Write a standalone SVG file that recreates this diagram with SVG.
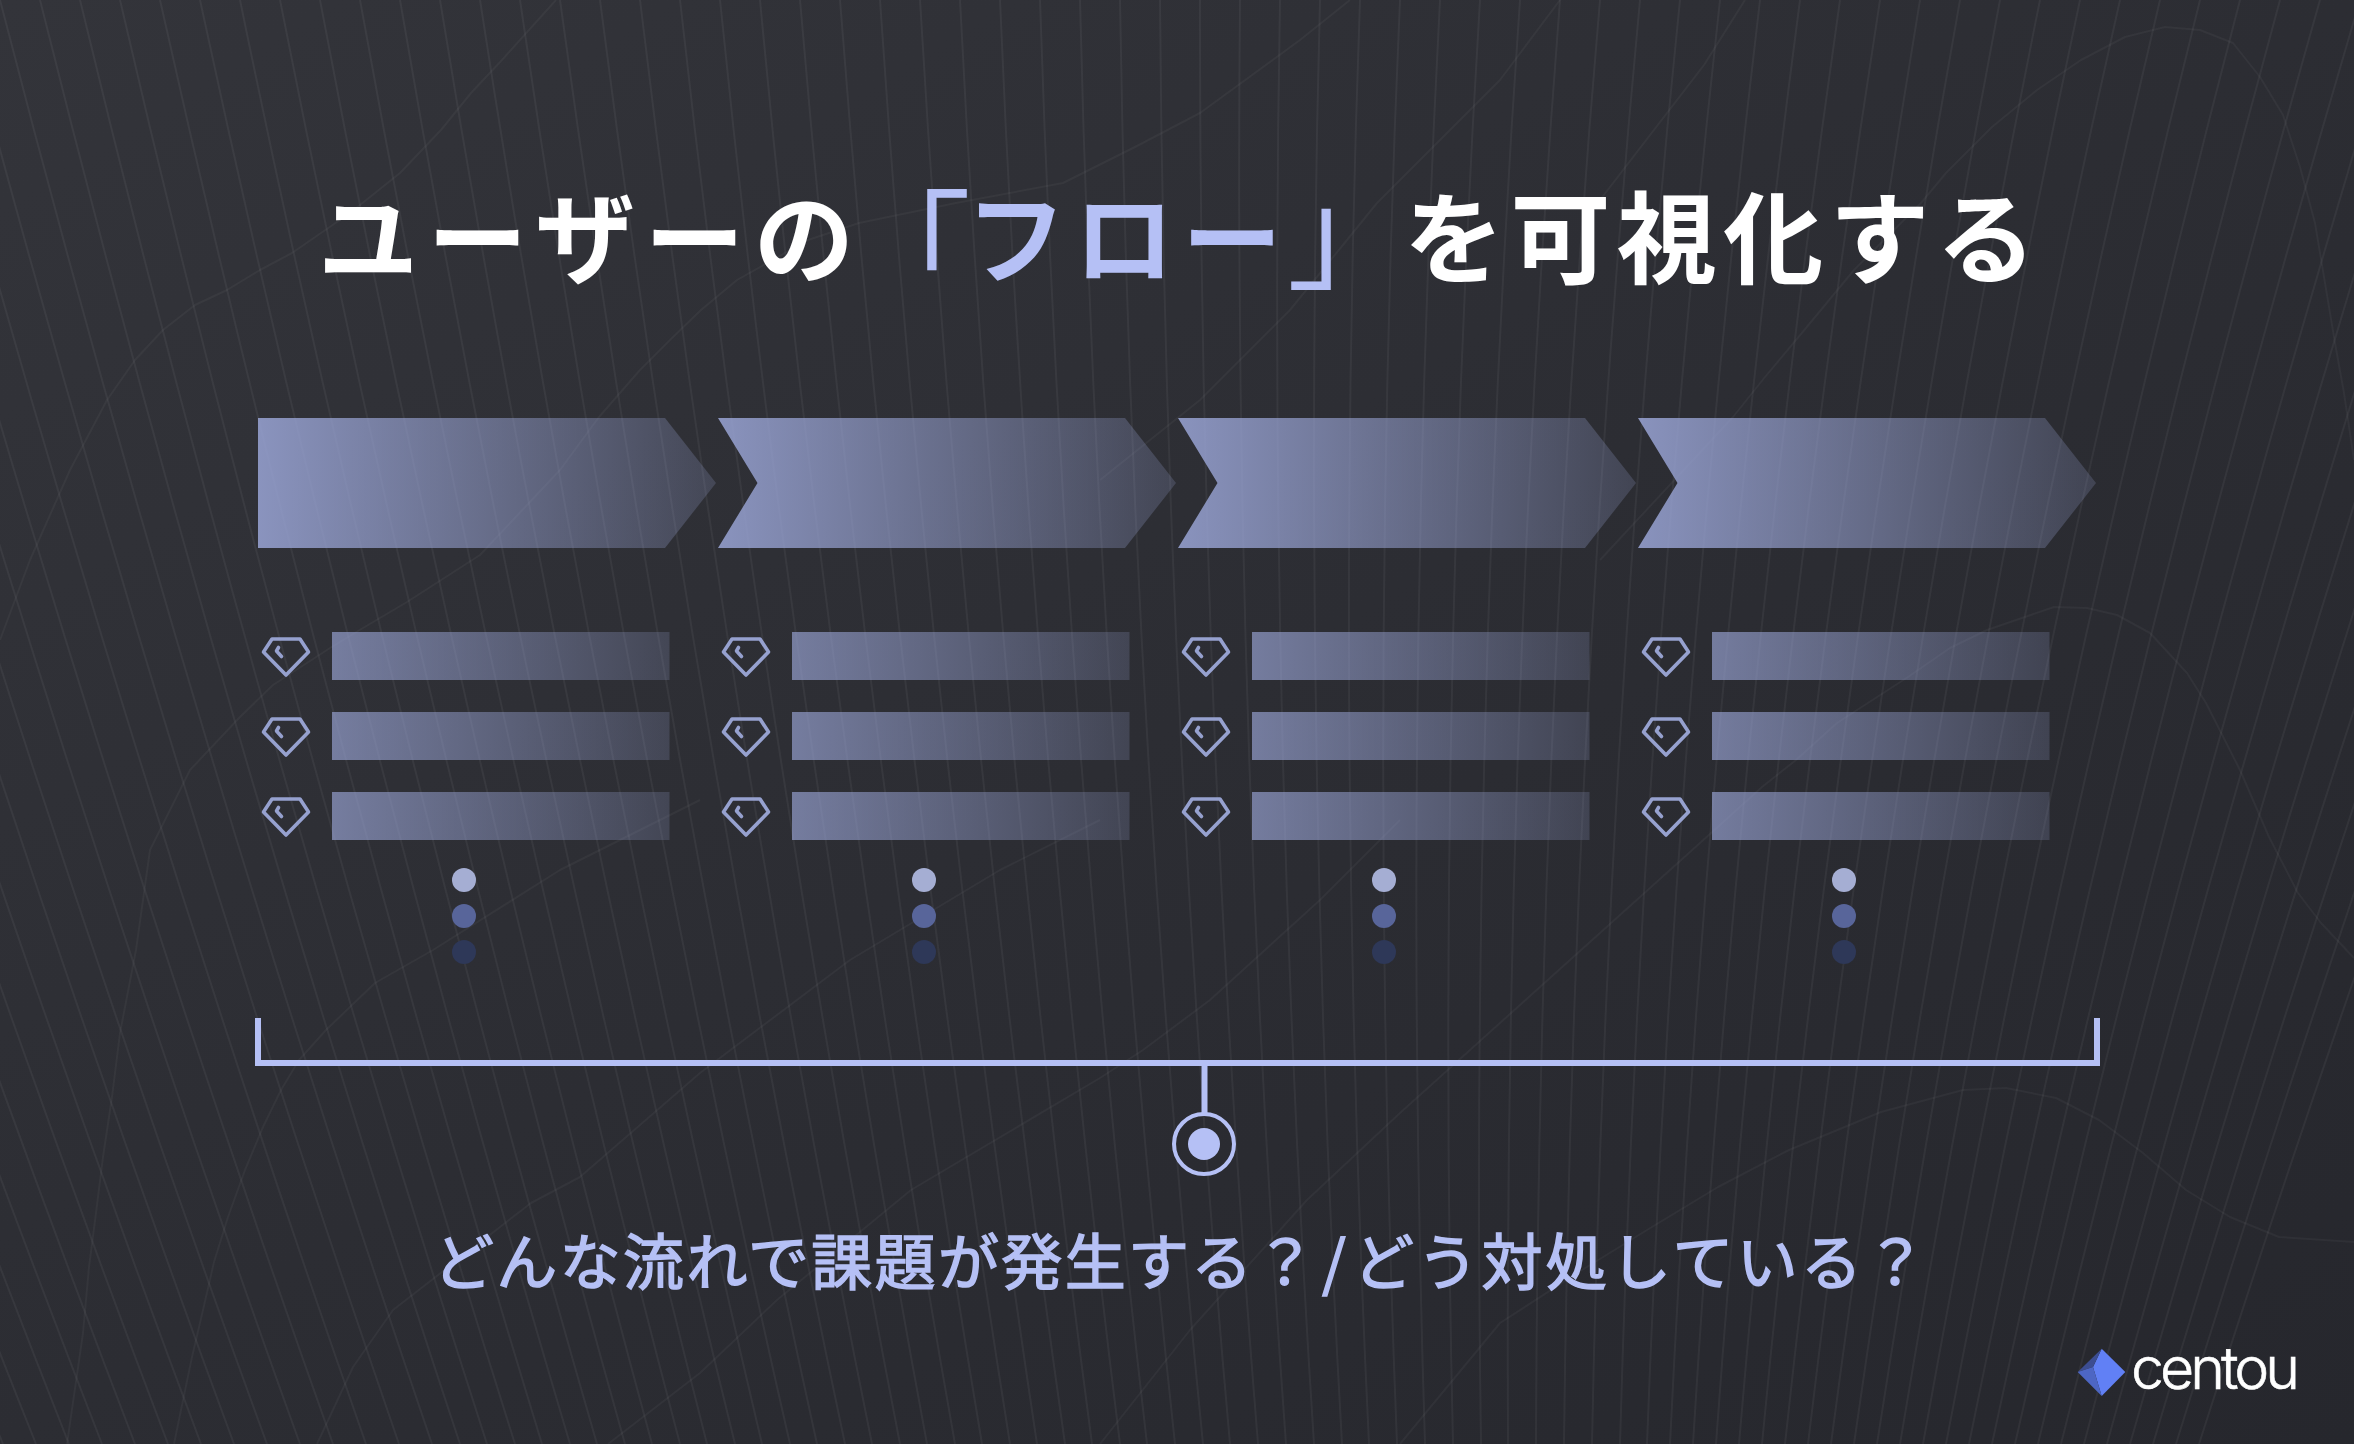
<svg xmlns="http://www.w3.org/2000/svg" width="2354" height="1444" viewBox="0 0 2354 1444">
<style>
.bgline{fill:none;stroke:#fff;stroke-opacity:.05;stroke-width:2}
.wave{fill:none;stroke:#fff;stroke-opacity:.04;stroke-width:2;stroke-linejoin:round}
.chev{fill:url(#gc)}
.bar{fill:url(#gb)}
.gem{fill:none;stroke:#96a1cf;stroke-width:3.6;stroke-linejoin:round;stroke-linecap:round}
.title{font-family:"Noto Sans CJK JP","Noto Sans",sans-serif;font-weight:700;font-size:100px;fill:#fff}
.sub{font-family:"Noto Sans CJK JP","Noto Sans",sans-serif;font-weight:400;font-size:61px;fill:#b5c0f5;stroke:#b5c0f5;stroke-width:1.500}
.accent{fill:#b5c0f5}
.brk{fill:#b5c0f5;font-weight:400;font-size:125px}
.d1{fill:#a5aed3}.d2{fill:#58659a}.d3{fill:#2e3858}
.conn{fill:none;stroke:#b5c0f5;stroke-width:6}
</style>
<defs>
<linearGradient id="bg" x1="0" y1="0" x2="1" y2="1"><stop offset="0" stop-color="#33343a"/><stop offset=".5" stop-color="#2c2d33"/><stop offset="1" stop-color="#26272d"/></linearGradient>
<linearGradient id="gc"><stop offset="0" stop-color="#9aa5d6" stop-opacity=".85"/><stop offset="1" stop-color="#9aa5d6" stop-opacity=".2"/></linearGradient>
<linearGradient id="gb"><stop offset="0" stop-color="#9aa5d6" stop-opacity=".66"/><stop offset="1" stop-color="#9aa5d6" stop-opacity=".2"/></linearGradient>
<g id="gem"><path class="gem" d="M272 639H300L308.500 652 286 675 263.500 652Z"/><path class="gem" d="M278.500 647.500 276.500 651 281.500 656.500"/></g>
<g id="list"><use href="#gem"/><rect class="bar" x="332" y="632" width="337.500" height="48"/><use href="#gem" y="80"/><rect class="bar" x="332" y="712" width="337.500" height="48"/><use href="#gem" y="160"/><rect class="bar" x="332" y="792" width="337.500" height="48"/><circle class="d1" cx="464" cy="880" r="12"/><circle class="d2" cx="464" cy="916" r="12"/><circle class="d3" cx="464" cy="952" r="12"/></g>
</defs>
<rect id="background" width="2354" height="1444" fill="url(#bg)"/>
<g id="bg-lines">
<path class="bgline" d="M-560 0Q-325 722 -30 1444M-520 0Q-289 722 3 1444M-480 0Q-252 722 36 1444M-440 0Q-216 722 69 1444M-400 0Q-179 722 102 1444M-360 0Q-142 722 135 1444M-320 0Q-106 722 168 1444M-280 0Q-70 722 201 1444M-240 0Q-33 722 234 1444M-200 0Q3 722 267 1444M-160 0Q40 722 300 1444M-120 0Q76 722 333 1444M-80 0Q113 722 366 1444M-40 0Q150 722 399 1444M0 0Q186 722 432 1444M40 0Q220 722 460 1444M80 0Q254 722 487 1444M120 0Q287 722 515 1444M160 0Q321 722 542 1444M200 0Q355 722 570 1444M240 0Q388 722 597 1444M280 0Q422 722 625 1444M320 0Q456 722 652 1444M360 0Q490 722 680 1444M400 0Q523 722 707 1444M440 0Q557 722 735 1444M480 0Q591 722 762 1444M520 0Q625 722 790 1444M560 0Q658 722 817 1444M600 0Q692 722 845 1444M640 0Q726 722 872 1444M680 0Q760 722 900 1444M720 0Q793 722 927 1444M760 0Q827 722 955 1444M800 0Q861 722 982 1444M840 0Q895 722 1010 1444M880 0Q928 722 1037 1444M920 0Q962 722 1065 1444M960 0Q996 722 1092 1444M1000 0Q1030 722 1120 1444M1040 0Q1063 722 1147 1444M1080 0Q1097 722 1175 1444M1120 0Q1131 722 1203 1444M1160 0Q1165 722 1230 1444M1200 0Q1199 722 1258 1444M1240 0Q1233 722 1286 1444M1280 0Q1267 722 1314 1444M1320 0Q1301 722 1342 1444M1360 0Q1334 722 1369 1444M1400 0Q1368 722 1397 1444M1440 0Q1402 722 1425 1444M1480 0Q1436 722 1453 1444M1520 0Q1470 722 1481 1444M1560 0Q1504 722 1508 1444M1600 0Q1538 722 1536 1444M1640 0Q1572 722 1564 1444M1680 0Q1606 722 1592 1444M1720 0Q1640 722 1620 1444M1760 0Q1674 722 1647 1444M1800 0Q1705 722 1670 1444M1840 0Q1737 722 1693 1444M1880 0Q1768 722 1716 1444M1920 0Q1800 722 1739 1444M1960 0Q1831 722 1762 1444M2000 0Q1863 722 1785 1444M2040 0Q1894 722 1808 1444M2080 0Q1926 722 1831 1444M2120 0Q1957 722 1854 1444M2160 0Q1989 722 1877 1444M2200 0Q2020 722 1900 1444M2240 0Q2052 722 1923 1444M2280 0Q2083 722 1946 1444M2320 0Q2115 722 1969 1444M2360 0Q2146 722 1992 1444M2400 0Q2178 722 2015 1444M2440 0Q2209 722 2038 1444M2480 0Q2241 722 2061 1444M2520 0Q2272 722 2084 1444M2560 0Q2304 722 2107 1444M2600 0Q2335 722 2130 1444M2640 0Q2367 722 2153 1444M2680 0Q2398 722 2176 1444M2720 0Q2430 722 2199 1444"/>
<path class="wave" d="M0 640L30 560 70 470 107 400 135 360 163 330 195 305 227 290 260 270 292 253 350 213 400 173 441 130 471 93 502 60 556 0"/>
<path class="wave" d="M67 1444L83 1333 89 1267 96 1213 103 1157 112 1097 120 1033 136 950 150 850 190 770 240 717 273 685 330 648 363 628 407 602 480 555 560 470 599 417 640 370 670 340 701 310 737 280 808 240 859 223 956 203 1063 183 1135 147 1200 113 1300 40 1350 0"/>
<path class="wave" d="M174 1444L181 1410 192 1357 203 1310 214 1262 228 1217 245 1170 263 1127 281 1090 299 1060 326 1030 375 983 433 950 560 870 700 800"/>
<path class="wave" d="M317 1444L353 1367 393 1310 531 1203 580 1177 700 1073 850 960 1000 870 1100 820"/>
<path class="wave" d="M608 1444L700 1373 777 1300 866 1227 911 1190 1100 1078 1143 1050 1210 1000 1320 900 1400 820"/>
<path class="wave" d="M1100 1444L1190 1330 1307 1200 1400 1113 1700 843 1762 787 1796 760 1837 723 1908 677 1950 648 1987 630 2054 607 2087 608 2117 615 2150 633 2187 673 2206 703 2240 770 2269 837 2298 893 2321 923 2354 958"/>
<path class="wave" d="M1600 560L1733 417 1765 377 1806 328 1854 270 1921 203 1946 173 1992 127 2037 90 2081 60 2125 37 2165 27 2200 30 2233 43 2260 77 2283 115 2300 167 2315 223 2325 283 2335 343 2344 393 2354 460"/>
<path class="wave" d="M1100 480L1200 400 1290 310 1347 240 1377 203 1500 80 1560 0"/>
<path class="wave" d="M1745 0L1704 65 1600 200"/>
<path class="wave" d="M1400 1444L1500 1323 1582 1270 1647 1230 1718 1187 1789 1150 1881 1112 1963 1090 2006 1088 2056 1098 2099 1120 2143 1153 2186 1190 2230 1217 2279 1237 2354 1242"/>
</g>
<text id="title" class="title" y="276"><tspan x="318" letter-spacing="9.500">ユーザーの</tspan><tspan class="brk" x="846" y="295">「</tspan><tspan class="accent" x="966" y="276" letter-spacing="8">フロー</tspan><tspan class="brk" x="1287" y="279">」</tspan><tspan x="1404" y="276" letter-spacing="6.400">を可視化する</tspan></text>
<g id="step-1"><path class="chev" d="M258 418H665L716 483 665 548H258Z"/><use href="#list"/></g>
<g id="step-2"><path class="chev" d="M718 418H1125L1176 483 1125 548H718L757.500 483Z"/><use href="#list" x="460"/></g>
<g id="step-3"><path class="chev" d="M1178 418H1585L1636 483 1585 548H1178L1217.500 483Z"/><use href="#list" x="920"/></g>
<g id="step-4"><path class="chev" d="M1638 418H2045L2096 483 2045 548H1638L1677.500 483Z"/><use href="#list" x="1380"/></g>
<g id="connectors"><path class="conn" d="M258 1018V1063H2097V1018M1204.500 1063V1114"/></g>
<g id="target"><circle cx="1204" cy="1144" r="30" fill="none" stroke="#b5c0f5" stroke-width="4"/><circle cx="1204" cy="1144" r="16" fill="#b5c0f5"/></g>
<text id="question" class="sub" y="1285"><tspan x="433" letter-spacing="2.350">どんな流れで課題が発生する？</tspan><tspan x="1322">/</tspan><tspan x="1353" letter-spacing="3.250">どう対処している？</tspan></text>
<g id="logo"><path d="M2101.700 1348.700L2125.300 1372 2101.700 1396 2093 1367Z" fill="#6180f5"/><path d="M2101.700 1348.700L2077.700 1372 2093 1367Z" fill="#3c4d91"/><path d="M2077.700 1372L2093 1367 2101.700 1396Z" fill="#4d66c4"/><text x="2131" y="1389" font-family="Inter,sans-serif" font-weight="300" font-size="59" fill="#fff" stroke="#fff" stroke-width=".6" textLength="169" lengthAdjust="spacing">centou</text></g>
</svg>
